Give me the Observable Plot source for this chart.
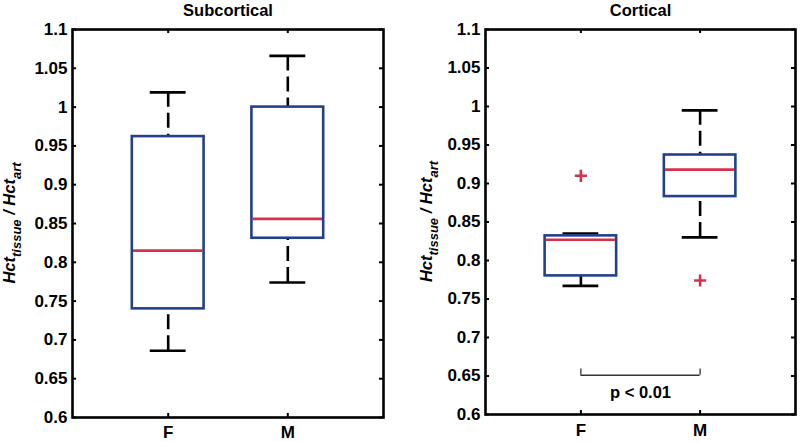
<!DOCTYPE html>
<html><head><meta charset="utf-8">
<script src="https://cdn.jsdelivr.net/npm/d3@7"></script>
<script src="https://cdn.jsdelivr.net/npm/@observablehq/plot@0.6"></script>
<style>
body{margin:0;background:#fff;}
#wrap{position:relative;width:800px;height:442px;overflow:hidden;background:#fff;}
#wrap > div{position:absolute;top:0;}
</style></head><body>
<div id="wrap"><div id="left" style="left:0"></div><div id="right" style="left:400px"></div></div>
<script>
// ---- data ----
const categories = ["F", "M"];
const yTicks = [0.6, 0.65, 0.7, 0.75, 0.8, 0.85, 0.9, 0.95, 1, 1.05, 1.1];
const yTickLabels = ["0.6", "0.65", "0.7", "0.75", "0.8", "0.85", "0.9", "0.95", "1", "1.05", "1.1"];

const subTitle = "Subcortical";
const subLowerWhisker = [0.686, 0.774];
const subQ1 = [0.740, 0.831];
const subMedian = [0.815, 0.856];
const subQ3 = [0.962, 1.000];
const subUpperWhisker = [1.019, 1.066];
const subOutlierGroup = [];
const subOutlierValue = [];

const corTitle = "Cortical";
const corLowerWhisker = [0.767, 0.830];
const corQ1 = [0.780, 0.883];
const corMedian = [0.827, 0.918];
const corQ3 = [0.832, 0.937];
const corUpperWhisker = [0.835, 0.995];
const corOutlierGroup = ["F", "M"];
const corOutlierValue = [0.910, 0.774];

const sigPair = ["F", "M"];
const sigLabel = "p < 0.01";
const sigBarValue = 0.651;
const sigTickValue = 0.659;
const sigTextValue = 0.622;

// ---- drawing ----
const BOX = "#23408a", RED = "#d8304a";
const FONT = "'Liberation Sans', Arial, Helvetica, sans-serif";
const xDom = [0.2, 2.8], yDom = [0.6, 1.1];

function panel({title, lo, q1, med, q3, hi, outG, outV, sig, m, labelX, xPad}) {
  const pos = categories.map((c, i) => i + 1);
  const boxes = categories.map((c, i) => ({c, x: i + 1, lo: lo[i], q1: q1[i], med: med[i], q3: q3[i], hi: hi[i]}));
  const outs = outG.map((g, i) => ({x: categories.indexOf(g) + 1, v: outV[i]}));
  const half = 0.3, capHalf = 0.15;
  const tx = 0.034, ty = 0.0052;
  const marks = [
    Plot.ruleX(boxes, {x: "x", y1: "hi", y2: "q3", stroke: "#000", strokeWidth: 2.6, strokeDasharray: "15,6"}),
    Plot.ruleX(boxes, {x: "x", y1: "lo", y2: "q1", stroke: "#000", strokeWidth: 2.6, strokeDasharray: "15,6"}),
    Plot.ruleY(boxes, {y: "hi", x1: d => d.x - capHalf, x2: d => d.x + capHalf, stroke: "#000", strokeWidth: 2.6}),
    Plot.ruleY(boxes, {y: "lo", x1: d => d.x - capHalf, x2: d => d.x + capHalf, stroke: "#000", strokeWidth: 2.6}),
    Plot.rect(boxes, {x1: d => d.x - half, x2: d => d.x + half, y1: "q1", y2: "q3", fill: "none", stroke: BOX, strokeWidth: 2.6}),
    Plot.ruleY(boxes, {y: "med", x1: d => d.x - half + 0.01, x2: d => d.x + half - 0.01, stroke: RED, strokeWidth: 2.6}),
    Plot.dot(outs, {x: "x", y: "v", symbol: "plus", r: 4, stroke: RED, strokeWidth: 2.6}),
    // inward frame ticks
    Plot.ruleY(yTicks, {y: d => d, x1: () => xDom[0], x2: () => xDom[0] + tx, stroke: "#000", strokeWidth: 2}),
    Plot.ruleY(yTicks, {y: d => d, x1: () => xDom[1] - tx, x2: () => xDom[1], stroke: "#000", strokeWidth: 2}),
    Plot.ruleX(pos, {x: d => d, y1: () => yDom[0], y2: () => yDom[0] + ty, stroke: "#000", strokeWidth: 2}),
    Plot.ruleX(pos, {x: d => d, y1: () => yDom[1] - ty, y2: () => yDom[1], stroke: "#000", strokeWidth: 2}),
    Plot.frame({stroke: "#000", strokeWidth: 2.6}),
    Plot.axisY(yTicks, {tickSize: 0, tickPadding: 5, tickFormat: d => yTickLabels[yTicks.indexOf(d)], label: null, fontSize: 17, fontWeight: "bold"}),
    Plot.axisX(pos, {tickSize: 0, tickPadding: xPad, tickFormat: d => categories[d - 1], label: null, fontSize: 17, fontWeight: "bold"}),
    Plot.text([title], {frameAnchor: "top", dy: -13.5, lineAnchor: "bottom", fontSize: 16.5, fontWeight: "bold"})
  ];
  if (sig) {
    const sx = sig.pair.map(g => categories.indexOf(g) + 1);
    marks.push(
      Plot.ruleY([sig.bar], {y: d => d, x1: () => sx[0], x2: () => sx[1], stroke: "#333", strokeWidth: 1.3}),
      Plot.ruleX(sx, {x: d => d, y1: () => sig.bar, y2: () => sig.tick, stroke: "#333", strokeWidth: 1.3}),
      Plot.text([sig.label], {x: () => (sx[0] + sx[1]) / 2, y: () => sig.text, lineAnchor: "bottom", fontSize: 16.5, fontWeight: "bold"})
    );
  }
  const plot = Plot.plot({
    width: 400, height: 442,
    marginLeft: m[0], marginRight: m[1], marginTop: m[2], marginBottom: m[3],
    x: {type: "linear", domain: xDom, axis: null},
    y: {type: "linear", domain: yDom, axis: null},
    style: {fontFamily: FONT, fontSize: "16px", fontWeight: "bold", background: "#fff", color: "#000", overflow: "visible"},
    marks
  });
  // y-axis label with subscripts
  const svg = d3.select(plot);
  const cy = m[2] + (442 - m[2] - m[3]) / 2;
  const t = svg.append("text")
    .attr("transform", `translate(${labelX},${cy}) rotate(-90)`)
    .attr("text-anchor", "middle")
    .attr("font-family", FONT).attr("font-weight", "bold").attr("font-style", "italic")
    .attr("font-size", 16.5).attr("fill", "#000");
  t.append("tspan").text("Hct");
  t.append("tspan").attr("font-size", 13).attr("dy", 6).text("tissue");
  t.append("tspan").attr("dy", -6).text(" / Hct");
  t.append("tspan").attr("font-size", 13).attr("dy", 6).text("art");
  return plot;
}

document.getElementById("left").appendChild(panel({
  title: subTitle, lo: subLowerWhisker, q1: subQ1, med: subMedian, q3: subQ3, hi: subUpperWhisker,
  outG: subOutlierGroup, outV: subOutlierValue, sig: null,
  m: [72, 17, 29, 25], labelX: 15, xPad: 8
}));
document.getElementById("right").appendChild(panel({
  title: corTitle, lo: corLowerWhisker, q1: corQ1, med: corMedian, q3: corQ3, hi: corUpperWhisker,
  outG: corOutlierGroup, outV: corOutlierValue,
  sig: {pair: sigPair, label: sigLabel, bar: sigBarValue, tick: sigTickValue, text: sigTextValue},
  m: [85, 5, 29, 28], labelX: 32, xPad: 9
}));
</script>
</body></html>
